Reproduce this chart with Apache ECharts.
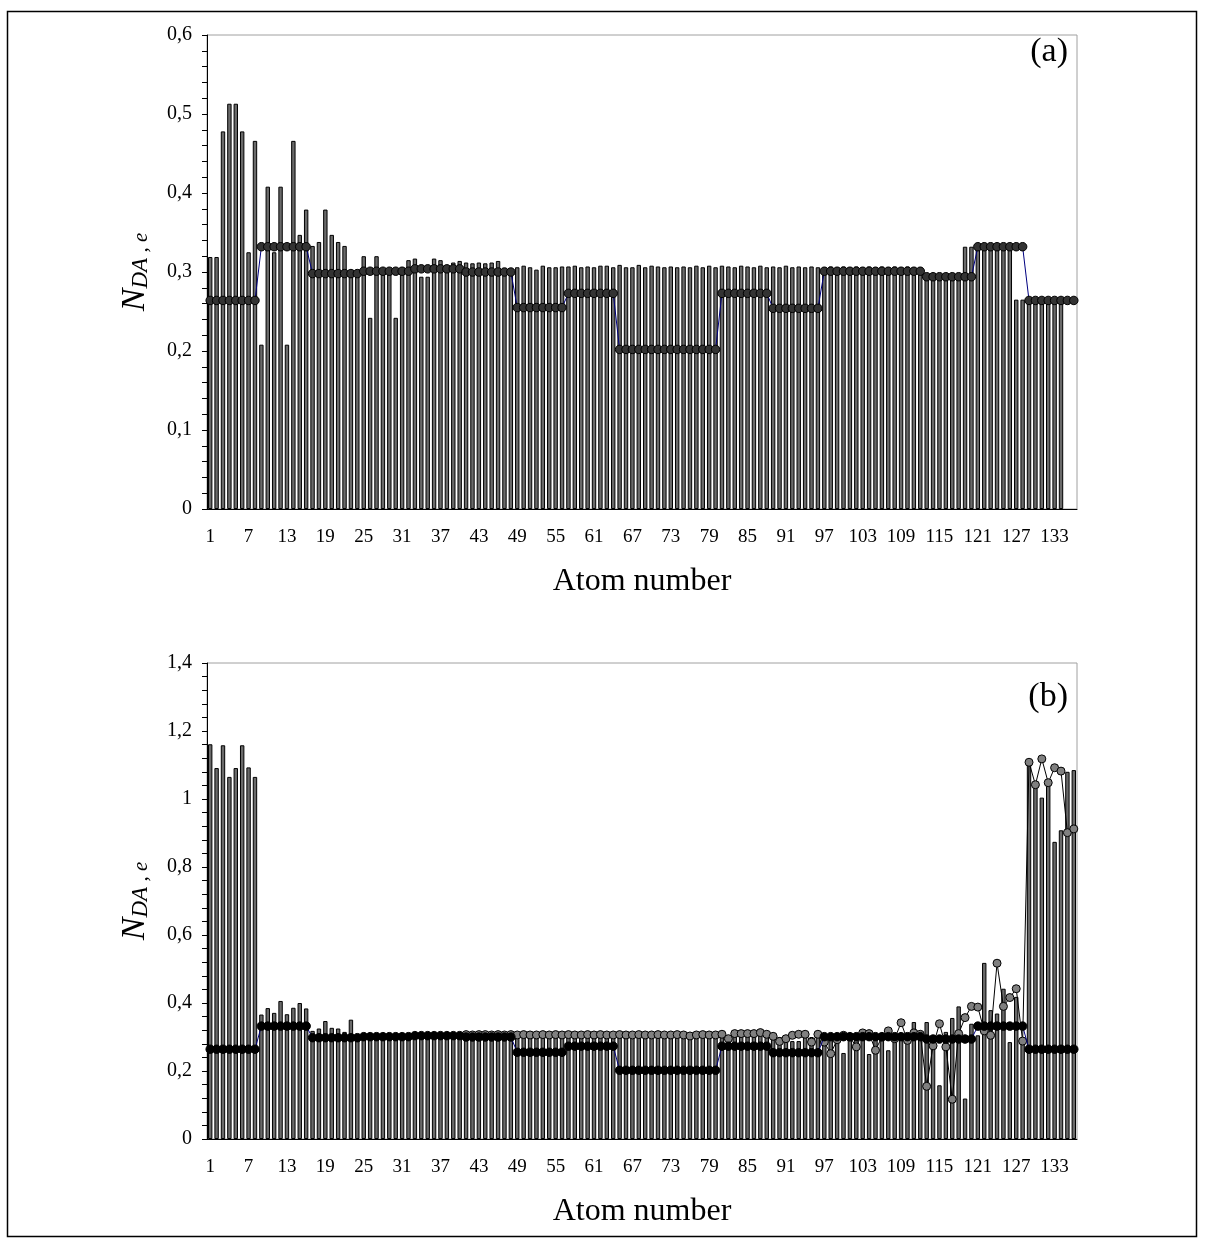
<!DOCTYPE html>
<html>
<head>
<meta charset="utf-8">
<script src="https://cdn.jsdelivr.net/npm/echarts@6/dist/echarts.min.js"></script>
<style>
html, body { margin: 0; padding: 0; background: #fff; }
#chart { width: 1205px; height: 1245px; }
</style>
</head>
<body>
<div id="chart"></div>
<script>
// atom numbers 1..136
const atoms = [];
for (let i = 1; i <= 136; i++) atoms.push(String(i));

// panel (a) bars
const barsA = [
  0.319, 0.319, 0.478, 0.513, 0.513, 0.478, 0.325, 0.466,
  0.208, 0.408, 0.325, 0.408, 0.208, 0.466, 0.347, 0.379,
  0.333, 0.338, 0.379, 0.347, 0.338, 0.333, 0.302, 0.302,
  0.320, 0.242, 0.320, 0.302, 0.302, 0.242, 0.306, 0.315,
  0.317, 0.294, 0.294, 0.317, 0.315, 0.306, 0.312, 0.314,
  0.312, 0.311, 0.312, 0.311, 0.312, 0.314, 0.305, 0.305,
  0.306, 0.308, 0.306, 0.303, 0.308, 0.306, 0.306, 0.307,
  0.307, 0.308, 0.306, 0.307, 0.306, 0.308, 0.308, 0.306,
  0.309, 0.306, 0.306, 0.309, 0.306, 0.308, 0.307, 0.306,
  0.307, 0.306, 0.307, 0.306, 0.308, 0.306, 0.308, 0.306,
  0.308, 0.307, 0.306, 0.308, 0.307, 0.306, 0.308, 0.306,
  0.307, 0.306, 0.308, 0.306, 0.307, 0.306, 0.307, 0.306,
  0.306, 0.307, 0.306, 0.307, 0.306, 0.307, 0.306, 0.307,
  0.306, 0.307, 0.306, 0.307, 0.306, 0.307, 0.306, 0.306,
  0.296, 0.296, 0.296, 0.296, 0.296, 0.296, 0.332, 0.332,
  0.332, 0.332, 0.332, 0.332, 0.332, 0.332, 0.265, 0.265,
  0.264, 0.264, 0.264, 0.264, 0.264, 0.264, null, null
];

// step line (same in both panels)
const stepLine = [
  0.264, 0.264, 0.264, 0.264, 0.264, 0.264, 0.264, 0.264,
  0.332, 0.332, 0.332, 0.332, 0.332, 0.332, 0.332, 0.332,
  0.298, 0.298, 0.298, 0.298, 0.298, 0.298, 0.298, 0.298,
  0.301, 0.301, 0.301, 0.301, 0.301, 0.301, 0.301, 0.301,
  0.304, 0.304, 0.304, 0.304, 0.304, 0.304, 0.304, 0.304,
  0.300, 0.300, 0.300, 0.300, 0.300, 0.300, 0.300, 0.300,
  0.255, 0.255, 0.255, 0.255, 0.255, 0.255, 0.255, 0.255,
  0.273, 0.273, 0.273, 0.273, 0.273, 0.273, 0.273, 0.273,
  0.202, 0.202, 0.202, 0.202, 0.202, 0.202, 0.202, 0.202,
  0.202, 0.202, 0.202, 0.202, 0.202, 0.202, 0.202, 0.202,
  0.273, 0.273, 0.273, 0.273, 0.273, 0.273, 0.273, 0.273,
  0.254, 0.254, 0.254, 0.254, 0.254, 0.254, 0.254, 0.254,
  0.301, 0.301, 0.301, 0.301, 0.301, 0.301, 0.301, 0.301,
  0.301, 0.301, 0.301, 0.301, 0.301, 0.301, 0.301, 0.301,
  0.294, 0.294, 0.294, 0.294, 0.294, 0.294, 0.294, 0.294,
  0.332, 0.332, 0.332, 0.332, 0.332, 0.332, 0.332, 0.332,
  0.264, 0.264, 0.264, 0.264, 0.264, 0.264, 0.264, 0.264
];

// panel (b) bars
const barsB = [
  1.161, 1.091, 1.158, 1.065, 1.091, 1.158, 1.093, 1.065,
  0.366, 0.385, 0.371, 0.406, 0.367, 0.386, 0.400, 0.384,
  0.318, 0.325, 0.347, 0.327, 0.325, 0.315, 0.351, 0.305,
  0.312, 0.310, 0.312, 0.311, 0.312, 0.310, 0.311, 0.312,
  0.313, 0.312, 0.313, 0.312, 0.313, 0.312, 0.313, 0.312,
  0.310, 0.311, 0.310, 0.311, 0.310, 0.311, 0.310, 0.310,
  0.305, 0.304, 0.305, 0.304, 0.305, 0.304, 0.305, 0.304,
  0.305, 0.304, 0.305, 0.304, 0.305, 0.304, 0.305, 0.304,
  0.305, 0.304, 0.305, 0.304, 0.305, 0.304, 0.305, 0.304,
  0.305, 0.304, 0.305, 0.304, 0.305, 0.304, 0.305, 0.304,
  0.305, 0.304, 0.305, 0.304, 0.305, 0.304, 0.305, 0.304,
  0.300, 0.300, 0.305, 0.288, 0.288, 0.300, 0.300, 0.305,
  0.300, 0.305, 0.305, 0.253, 0.308, 0.300, 0.308, 0.250,
  0.305, 0.305, 0.261, 0.305, 0.308, 0.305, 0.344, 0.305,
  0.344, 0.290, 0.158, 0.315, 0.356, 0.390, 0.119, 0.339,
  0.305, 0.518, 0.379, 0.369, 0.442, 0.285, 0.418, 0.300,
  1.108, 1.040, 1.004, 1.048, 0.874, 0.908, 1.080, 1.085
];

// panel (b) grey circles
const greyB = [
  null, null, null, null, null, null, null, null,
  null, null, null, null, null, null, null, null,
  null, null, null, null, null, null, null, null,
  null, null, null, null, null, null, null, null,
  null, null, null, null, null, null, null, null,
  0.307, 0.306, 0.307, 0.307, 0.306, 0.307, 0.306, 0.307,
  0.306, 0.307, 0.306, 0.306, 0.307, 0.306, 0.307, 0.306,
  0.307, 0.306, 0.306, 0.307, 0.306, 0.307, 0.306, 0.306,
  0.307, 0.306, 0.306, 0.307, 0.306, 0.306, 0.307, 0.306,
  0.306, 0.307, 0.306, 0.303, 0.306, 0.307, 0.306, 0.306,
  0.308, 0.295, 0.310, 0.310, 0.310, 0.310, 0.313, 0.308,
  0.302, 0.287, 0.295, 0.305, 0.308, 0.308, 0.285, 0.308,
  0.285, 0.251, 0.292, 0.305, 0.300, 0.271, 0.312, 0.310,
  0.261, 0.300, 0.318, 0.295, 0.342, 0.290, 0.312, 0.308,
  0.155, 0.274, 0.339, 0.271, 0.117, 0.310, 0.357, 0.390,
  0.388, 0.318, 0.305, 0.517, 0.390, 0.416, 0.442, 0.288,
  1.108, 1.042, 1.118, 1.048, 1.092, 1.082, 0.901, 0.912
];

const serif = '"Liberation Serif", "Times New Roman", serif';
const fmt = v => String(+v.toFixed(1)).replace('.', ',');

function xAxisFor(idx) {
  return {
    type: 'category', gridIndex: idx, data: atoms, boundaryGap: true,
    axisLine: {lineStyle: {color: '#000', width: 1}},
    axisTick: {interval: 0, length: 5, lineStyle: {color: '#000'}},
    axisLabel: {interval: 5, margin: 19, color: '#000', fontFamily: serif, fontSize: 19},
    splitLine: {show: false},
    name: 'Atom number', nameLocation: 'middle', nameGap: 57,
    nameTextStyle: {color: '#000', fontFamily: serif, fontSize: 32}
  };
}

function yAxisFor(idx, max, step) {
  return {
    type: 'value', gridIndex: idx, min: 0, max: max, interval: step,
    axisLine: {show: true, lineStyle: {color: '#000', width: 1}},
    axisTick: {show: true, length: 5, lineStyle: {color: '#000'}},
    minorTick: {show: true, splitNumber: 5, length: 5, lineStyle: {color: '#000'}},
    splitLine: {show: false},
    minorSplitLine: {show: false},
    axisLabel: {formatter: fmt, margin: 15, color: '#000', fontFamily: serif, fontSize: 20},
    name: '{n|N}{s|DA}{e| , e}', nameLocation: 'middle', nameGap: 55, nameRotate: 90,
    nameTextStyle: {
      color: '#000',
      rich: {
        n: {fontFamily: serif, fontStyle: 'italic', fontSize: 34, lineHeight: 34, verticalAlign: 'top', color: '#000'},
        s: {fontFamily: serif, fontStyle: 'italic', fontSize: 23, lineHeight: 23, verticalAlign: 'bottom', padding: [24, 0, 0, 0], color: '#000'},
        e: {fontFamily: serif, fontStyle: 'italic', fontSize: 21, lineHeight: 21, verticalAlign: 'bottom', padding: [24, 0, 0, 0], color: '#000'}
      }
    }
  };
}

const barStyle = {color: '#6a6a6a', borderColor: '#000', borderWidth: 1};

const chart = echarts.init(document.getElementById('chart'));
chart.setOption({
  animation: false,
  backgroundColor: '#fff',
  grid: [
    {left: 207, top: 35, width: 870, height: 474, show: true, borderColor: '#a0a0a0', borderWidth: 1},
    {left: 207, top: 663, width: 870, height: 476, show: true, borderColor: '#a0a0a0', borderWidth: 1}
  ],
  xAxis: [xAxisFor(0), xAxisFor(1)],
  yAxis: [yAxisFor(0, 0.6, 0.1), yAxisFor(1, 1.4, 0.2)],
  series: [
    {type: 'bar', xAxisIndex: 0, yAxisIndex: 0, data: barsA, barWidth: 4.4, itemStyle: barStyle, silent: true},
    {type: 'line', xAxisIndex: 0, yAxisIndex: 0, data: stepLine, symbol: 'circle', symbolSize: 8.5,
      showAllSymbol: true, z: 4,
      itemStyle: {color: '#333', borderColor: '#000', borderWidth: 1},
      lineStyle: {color: '#000080', width: 1}},
    {type: 'bar', xAxisIndex: 1, yAxisIndex: 1, data: barsB, barWidth: 4.4, itemStyle: barStyle, silent: true},
    {type: 'line', xAxisIndex: 1, yAxisIndex: 1, data: greyB, symbol: 'circle', symbolSize: 8,
      showAllSymbol: true, z: 3,
      itemStyle: {color: '#808080', borderColor: '#000', borderWidth: 1},
      lineStyle: {color: '#000', width: 1}},
    {type: 'line', xAxisIndex: 1, yAxisIndex: 1, data: stepLine, symbol: 'circle', symbolSize: 8.5,
      showAllSymbol: true, z: 4,
      itemStyle: {color: '#000', borderColor: '#000', borderWidth: 1},
      lineStyle: {color: '#000080', width: 1}}
  ],
  graphic: [
    {type: 'rect', silent: true, shape: {x: 7.5, y: 11.5, width: 1189, height: 1225},
      style: {fill: 'none', stroke: '#000', lineWidth: 1.5}},
    {type: 'text', silent: true, x: 1068, y: 52,
      style: {text: '(a)', textAlign: 'right', textVerticalAlign: 'middle', fontFamily: serif, fontSize: 34, fill: '#000'}},
    {type: 'text', silent: true, x: 1068, y: 697,
      style: {text: '(b)', textAlign: 'right', textVerticalAlign: 'middle', fontFamily: serif, fontSize: 34, fill: '#000'}}
  ]
});
</script>
</body>
</html>
